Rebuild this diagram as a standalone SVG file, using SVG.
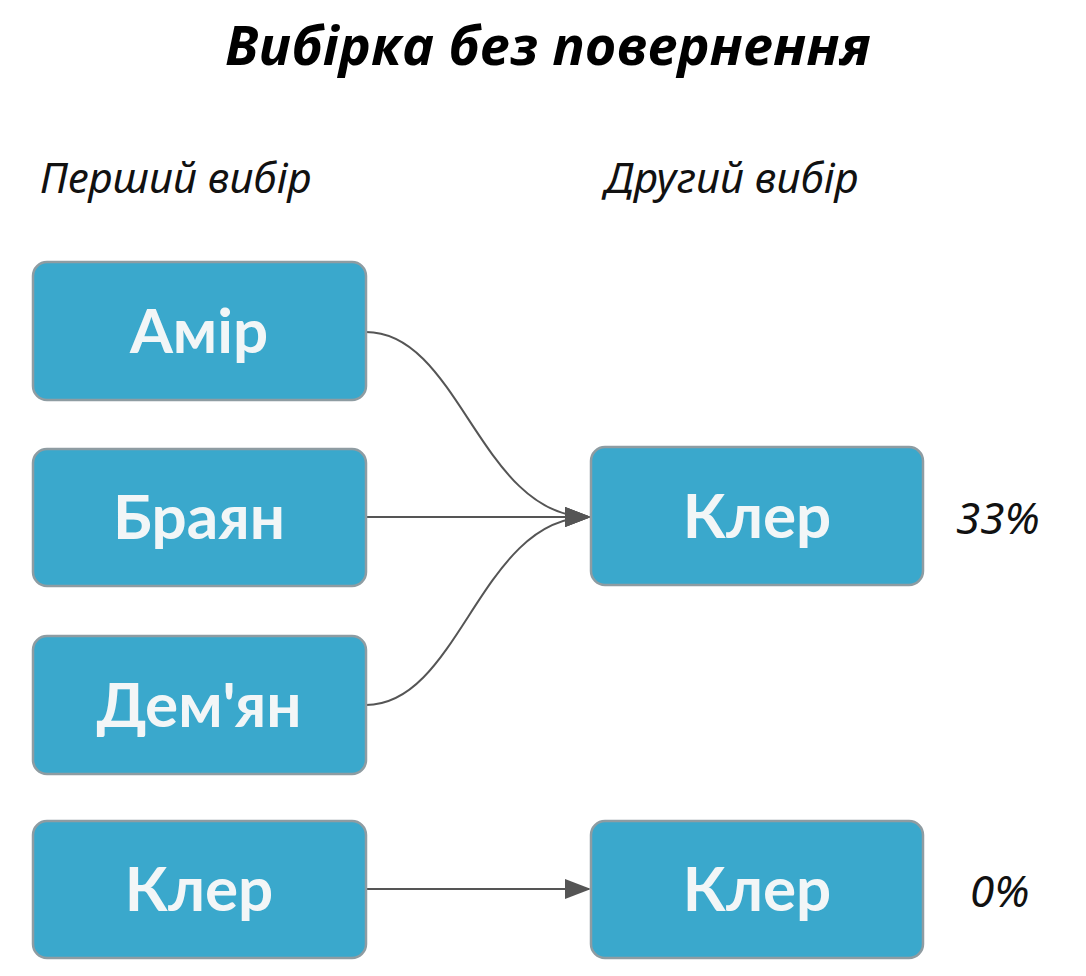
<svg xmlns="http://www.w3.org/2000/svg" width="1086" height="976" viewBox="0 0 1086 976">
<defs>
<marker id="arr" markerWidth="26" markerHeight="20" refX="24" refY="10" orient="auto" markerUnits="userSpaceOnUse">
<path d="M0,0 L26,10 L0,20 Z" fill="#555"/>
</marker>
<style>
.box{fill:#3aa8cc;stroke:#8e9ca2;stroke-width:2.5}
.lbl{font-family:Lato,"Noto Sans",sans-serif;font-weight:bold;font-size:62px;fill:#f2f6f7;text-anchor:middle}
.hdr{font-family:"Noto Sans","Open Sans",sans-serif;font-style:italic;font-size:42px;fill:#111}
.pct{font-family:"Noto Sans","Open Sans",sans-serif;font-style:italic;font-size:44px;fill:#111}
.con{fill:none;stroke:#555;stroke-width:2}
</style>
</defs>
<rect width="1086" height="976" fill="#fff"/>
<text x="548" y="65" text-anchor="middle" font-family="'Open Sans','Noto Sans',sans-serif" font-weight="bold" font-style="italic" font-size="54" fill="#000">Вибірка без повернення</text>
<text class="hdr" x="40" y="193">Перший вибір</text>
<text class="hdr" x="605" y="193">Другий вибір</text>
<g id="connectors">
<path class="con" d="M366,332 C460,332 480,517 589,517" marker-end="url(#arr)"/>
<path class="con" d="M366,517 L589,517" marker-end="url(#arr)"/>
<path class="con" d="M366,705 C460,705 480,517 589,517" marker-end="url(#arr)"/>
<path class="con" d="M366,889 L589,889" marker-end="url(#arr)"/>
</g>
<g id="amir"><rect class="box" x="33" y="262" width="333" height="138" rx="14"/><text class="lbl" x="199" y="353">Амір</text></g>
<g id="brayan"><rect class="box" x="33" y="449" width="333" height="137" rx="14"/><text class="lbl" x="199" y="539">Браян</text></g>
<g id="demyan"><rect class="box" x="33" y="636" width="333" height="138" rx="14"/><text class="lbl" x="199" y="727">Дем'ян</text></g>
<g id="kler1"><rect class="box" x="33" y="821" width="333" height="137" rx="14"/><text class="lbl" x="199" y="911">Клер</text></g>
<g id="kler2"><rect class="box" x="591" y="447" width="332" height="138" rx="14"/><text class="lbl" x="757" y="538">Клер</text></g>
<g id="kler3"><rect class="box" x="591" y="821" width="332" height="137" rx="14"/><text class="lbl" x="757" y="911">Клер</text></g>
<text class="pct" x="956" y="534">33%</text>
<text class="pct" x="970" y="907">0%</text>
</svg>
